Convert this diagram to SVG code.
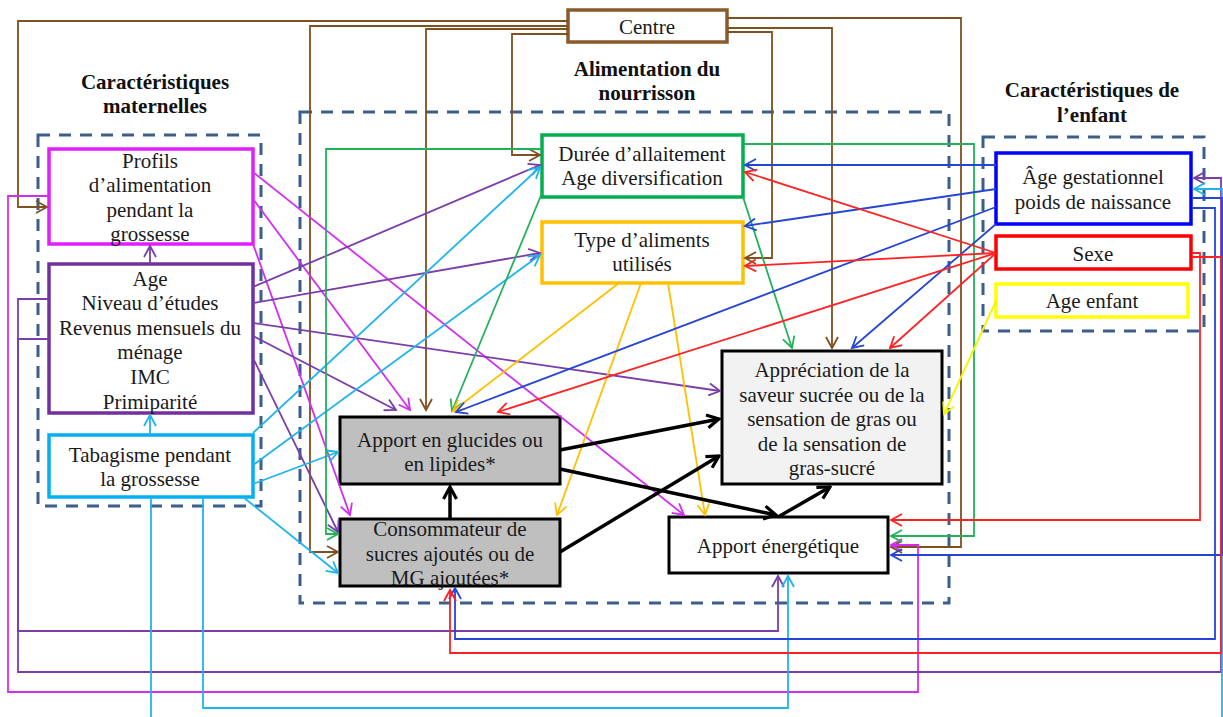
<svg xmlns="http://www.w3.org/2000/svg" width="1223" height="717" viewBox="0 0 1223 717">
<style>
text{font-family:"Liberation Serif","Times New Roman",serif;font-size:21px;fill:#1a1a1a;text-anchor:middle;dominant-baseline:central}
.t{font-weight:bold;fill:#111}
.grp{fill:none;stroke:#3B5E8C;stroke-width:3;stroke-dasharray:12,9}
.c{fill:none;stroke-width:1.8}
.k{fill:none;stroke:#000;stroke-width:3.5}
.br{stroke:#7F5020}.mg{stroke:#D22EF2}.pu{stroke:#7A3DAA}.cy{stroke:#1FB5EC}.gr{stroke:#21B25A}.or{stroke:#FFC000}.bl{stroke:#2545D4}.rd{stroke:#FF2222}.ye{stroke:#F5F500}
</style>
<defs>
<marker id="a-br" markerUnits="userSpaceOnUse" markerWidth="14" markerHeight="14" viewBox="0 0 14 14" refX="12" refY="7" orient="auto"><path d="M1,1 L12,7 L1,13" fill="none" stroke="#7F5020" stroke-width="1.8"/></marker>
<marker id="a-mg" markerUnits="userSpaceOnUse" markerWidth="14" markerHeight="14" viewBox="0 0 14 14" refX="12" refY="7" orient="auto"><path d="M1,1 L12,7 L1,13" fill="none" stroke="#D22EF2" stroke-width="1.8"/></marker>
<marker id="a-pu" markerUnits="userSpaceOnUse" markerWidth="14" markerHeight="14" viewBox="0 0 14 14" refX="12" refY="7" orient="auto"><path d="M1,1 L12,7 L1,13" fill="none" stroke="#7A3DAA" stroke-width="1.8"/></marker>
<marker id="a-cy" markerUnits="userSpaceOnUse" markerWidth="14" markerHeight="14" viewBox="0 0 14 14" refX="12" refY="7" orient="auto"><path d="M1,1 L12,7 L1,13" fill="none" stroke="#1FB5EC" stroke-width="1.8"/></marker>
<marker id="a-gr" markerUnits="userSpaceOnUse" markerWidth="14" markerHeight="14" viewBox="0 0 14 14" refX="12" refY="7" orient="auto"><path d="M1,1 L12,7 L1,13" fill="none" stroke="#21B25A" stroke-width="1.8"/></marker>
<marker id="a-or" markerUnits="userSpaceOnUse" markerWidth="14" markerHeight="14" viewBox="0 0 14 14" refX="12" refY="7" orient="auto"><path d="M1,1 L12,7 L1,13" fill="none" stroke="#FFC000" stroke-width="1.8"/></marker>
<marker id="a-bl" markerUnits="userSpaceOnUse" markerWidth="14" markerHeight="14" viewBox="0 0 14 14" refX="12" refY="7" orient="auto"><path d="M1,1 L12,7 L1,13" fill="none" stroke="#2545D4" stroke-width="1.8"/></marker>
<marker id="a-rd" markerUnits="userSpaceOnUse" markerWidth="14" markerHeight="14" viewBox="0 0 14 14" refX="12" refY="7" orient="auto"><path d="M1,1 L12,7 L1,13" fill="none" stroke="#FF2222" stroke-width="1.8"/></marker>
<marker id="a-ye" markerUnits="userSpaceOnUse" markerWidth="14" markerHeight="14" viewBox="0 0 14 14" refX="12" refY="7" orient="auto"><path d="M1,1 L12,7 L1,13" fill="none" stroke="#F5F500" stroke-width="1.8"/></marker>
<marker id="a-k" markerUnits="userSpaceOnUse" markerWidth="16" markerHeight="16" viewBox="0 0 16 16" refX="14" refY="8" orient="auto"><path d="M2,1.5 L14,8 L2,14.5" fill="none" stroke="#000" stroke-width="3.2"/></marker>
</defs>
<rect width="1223" height="717" fill="#fff"/>

<g id="groups">
<rect class="grp" x="38" y="135" width="223" height="371"/>
<rect class="grp" x="300" y="112" width="649" height="491"/>
<rect class="grp" x="983" y="137" width="221" height="194"/>
<text class="t" x="155" y="82">Caractéristiques</text>
<text class="t" x="155" y="106">maternelles</text>
<text class="t" x="647" y="69">Alimentation du</text>
<text class="t" x="647" y="93">nourrisson</text>
<text class="t" x="1092" y="90">Caractéristiques de</text>
<text class="t" x="1092" y="115">l’enfant</text>
</g>

<g id="n-centre"><rect x="568" y="10" width="159" height="32" fill="#fff" stroke="#8B5A2B" stroke-width="3.5"/><text x="647" y="27">Centre</text></g>
<g id="n-profils"><rect x="49" y="149" width="204" height="95" fill="#fff" stroke="#E01EFF" stroke-width="3.5"/><text x="150" y="161">Profils</text><text x="150" y="185">d’alimentation</text><text x="150" y="210">pendant la</text><text x="150" y="234">grossesse</text></g>
<g id="n-age"><rect x="49" y="264" width="204" height="149" fill="#fff" stroke="#7030A0" stroke-width="3.5"/><text x="150" y="279">Age</text><text x="150" y="303">Niveau d’études</text><text x="150" y="328">Revenus mensuels du</text><text x="150" y="352">ménage</text><text x="150" y="377">IMC</text><text x="150" y="402">Primiparité</text></g>
<g id="n-tabac"><rect x="49" y="435" width="204" height="62" fill="#fff" stroke="#00B0F0" stroke-width="3.5"/><text x="150" y="455">Tabagisme pendant</text><text x="150" y="479">la grossesse</text></g>
<g id="n-duree"><rect x="542" y="135" width="201" height="62" fill="#fff" stroke="#00B050" stroke-width="3.5"/><text x="642" y="154">Durée d’allaitement</text><text x="642" y="178">Age diversification</text></g>
<g id="n-type"><rect x="542" y="222" width="201" height="61" fill="#fff" stroke="#FFC000" stroke-width="3.5"/><text x="642" y="240">Type d’aliments</text><text x="642" y="264">utilisés</text></g>
<g id="n-glucides"><rect x="340" y="417" width="220" height="67" fill="#BFBFBF" stroke="#000" stroke-width="3"/><text x="450" y="440">Apport en glucides ou</text><text x="450" y="464">en lipides*</text></g>
<g id="n-conso"><rect x="340" y="519" width="220" height="67" fill="#BFBFBF" stroke="#000" stroke-width="3"/><text x="450" y="529">Consommateur de</text><text x="450" y="554">sucres ajoutés ou de</text><text x="450" y="578">MG ajoutées*</text></g>
<g id="n-appreciation"><rect x="722" y="351" width="220" height="133" fill="#F2F2F2" stroke="#000" stroke-width="3"/><text x="832" y="370">Appréciation de la</text><text x="832" y="395">saveur sucrée ou de la</text><text x="832" y="419">sensation de gras ou</text><text x="832" y="444">de la sensation de</text><text x="832" y="468">gras-sucré</text></g>
<g id="n-energie"><rect x="669" y="517" width="219" height="56" fill="#fff" stroke="#000" stroke-width="3"/><text x="778" y="546">Apport énergétique</text></g>
<g id="n-gest"><rect x="996" y="153" width="195" height="71" fill="#fff" stroke="#0000FF" stroke-width="3.5"/><text x="1093" y="177">Âge gestationnel</text><text x="1093" y="202">poids de naissance</text></g>
<g id="n-sexe"><rect x="996" y="236" width="195" height="33" fill="#fff" stroke="#FF0000" stroke-width="3.5"/><text x="1093" y="254">Sexe</text></g>
<g id="n-ageenfant"><rect x="996" y="284" width="192" height="33" fill="#fff" stroke="#FFFF00" stroke-width="3.5"/><text x="1092" y="301">Age enfant</text></g>

<g id="connectors">
<g class="c br" marker-end="url(#a-br)">
<path d="M568,21 H18 V207 H47"/>
<path d="M568,26 H310 V552 H338"/>
<path d="M568,29 H426 V410"/>
<path d="M568,34 H512 V155 H540"/>
<path d="M728,18 H961 V547 H891"/>
<path d="M728,28 H832 V348"/>
<path d="M728,32 H772 V258 H745"/>
</g>
<g class="c mg" marker-end="url(#a-mg)">
<path d="M253,172 L684,515"/>
<path d="M253,199 L410,410"/>
<path d="M253,244 L350,515"/>
<path d="M49,196 H8 V692 H918 V545 H891"/>
</g>
<g class="c pu" marker-end="url(#a-pu)">
<path d="M150,264 V246"/>
<path d="M253,287 L540,165"/>
<path d="M253,303 L540,253"/>
<path d="M253,323 L720,391"/>
<path d="M253,336 L396,410"/>
<path d="M253,358 L338,532"/>
<path d="M49,299 H18 V631 H778 V576"/>
<path d="M49,339 H18 V672 H1221 V178 H1194"/>
</g>
<g class="c cy" marker-end="url(#a-cy)">
<path d="M150,435 V415"/>
<path d="M253,433 L540,167"/>
<path d="M253,465 L540,255"/>
<path d="M253,484 L338,452"/>
<path d="M243,497 L338,573"/>
<path d="M151,497 V722 H1222 V189 H1194"/>
<path d="M203,497 V708 H788 V576"/>
</g>
<g class="c gr" marker-end="url(#a-gr)">
<path d="M542,149 H326 V534 H338"/>
<path d="M542,193 L452,411"/>
<path d="M743,197 L792,348"/>
<path d="M743,144 H974 V536 H891"/>
</g>
<g class="c or" marker-end="url(#a-or)">
<path d="M619,283 L453,411"/>
<path d="M641,283 L557,515"/>
<path d="M668,283 L705,515"/>
</g>
<g class="c bl" marker-end="url(#a-bl)">
<path d="M996,165 H745"/>
<path d="M996,189 L745,226"/>
<path d="M996,207 L456,412"/>
<path d="M996,224 L852,348"/>
<path d="M1192,198 H1222 V555 H891"/>
<path d="M1192,208 H1215 V639 H455 V588"/>
</g>
<g class="c rd" marker-end="url(#a-rd)">
<path d="M996,253 L745,172"/>
<path d="M996,253 L745,266"/>
<path d="M996,253 L498,412"/>
<path d="M996,253 L890,348"/>
<path d="M1192,253 H1200 V520 H891"/>
<path d="M1192,257 H1221 V653 H450 V590"/>
</g>
<g class="c ye" marker-end="url(#a-ye)">
<path d="M996,301 L944,414"/>
</g>
<g class="k" marker-end="url(#a-k)">
<path d="M450,519 V487"/>
<path d="M560,450 L719,419"/>
<path d="M560,469 L776,515"/>
<path d="M560,552 L719,456"/>
<path d="M778,517 L830,487"/>
</g>
</g>
</svg>
